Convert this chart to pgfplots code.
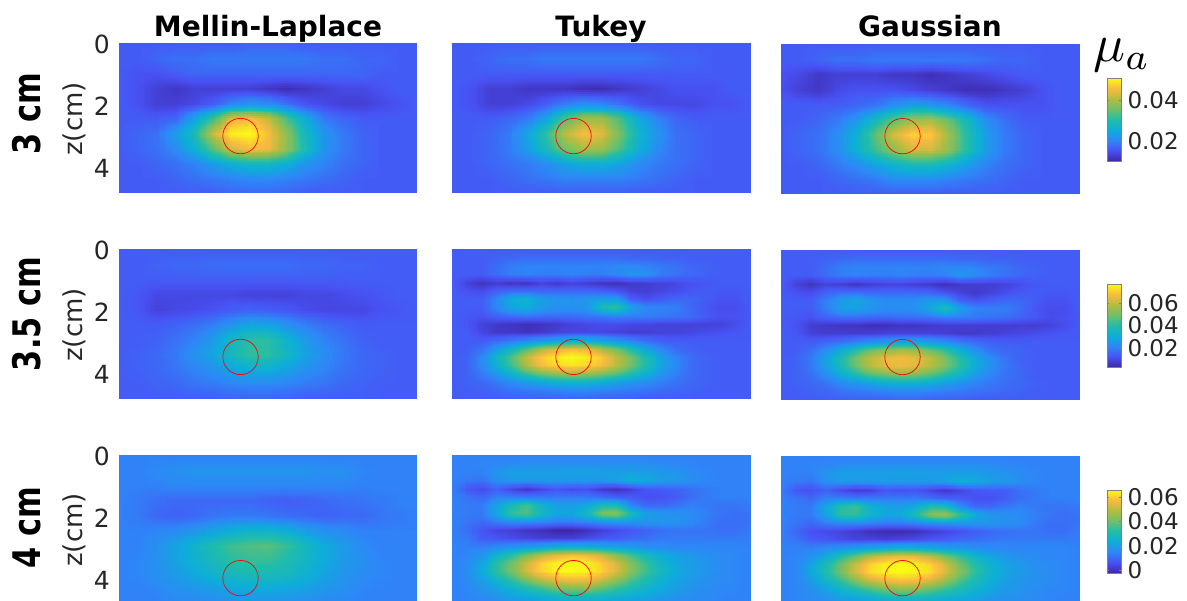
\documentclass[border=0pt]{standalone}
\usepackage{fontspec}
\setmainfont{DejaVu Sans}
\usepackage{pgfplots}
\usepackage{pgfplotstable}
\usepgfplotslibrary{patchplots}
\pgfplotsset{compat=1.18}
\pgfplotsset{colormap={parula}{rgb=(.2422,.1504,.6603) rgb=(.2810,.3228,.9579) rgb=(.1786,.5289,.9682) rgb=(.05,.68,.85) rgb=(.13,.74,.66) rgb=(.44,.75,.41) rgb=(.70,.74,.25) rgb=(.98,.73,.25) rgb=(.9769,.9839,.0805)}}
\definecolor{mlgray}{RGB}{38,38,38}
% values: mu_a x 1000
\pgfplotstableread[row sep=\\]{c\\
16\\16\\16\\16\\16\\16\\16\\17\\17\\17\\16\\16\\16\\16\\16\\16\\16\\
16\\16\\17\\18\\18\\19\\19\\19\\19\\19\\19\\18\\18\\17\\17\\16\\16\\
16\\15\\15\\16\\17\\17\\17\\17\\17\\17\\17\\17\\17\\17\\16\\16\\16\\
16\\15\\13\\12\\13\\13\\13\\13\\12\\11\\12\\13\\14\\14\\15\\16\\16\\
16\\15\\13\\13\\14\\16\\20\\22\\21\\18\\15\\14\\13\\13\\14\\15\\16\\
16\\16\\16\\17\\24\\32\\44\\46\\42\\33\\25\\19\\17\\16\\16\\16\\16\\
16\\17\\18\\23\\29\\42\\50\\51\\46\\38\\28\\22\\19\\17\\16\\16\\16\\
16\\17\\18\\21\\26\\34\\43\\46\\45\\38\\29\\22\\19\\17\\16\\16\\16\\
16\\16\\17\\18\\20\\23\\26\\28\\28\\26\\22\\20\\18\\17\\16\\16\\16\\
16\\16\\16\\17\\18\\19\\20\\21\\21\\20\\19\\18\\17\\16\\16\\16\\16\\
16\\16\\16\\16\\16\\16\\17\\17\\17\\17\\16\\16\\16\\16\\16\\16\\16\\
}\tA
\pgfplotstableread[row sep=\\]{c\\
16\\16\\16\\16\\16\\16\\16\\16\\16\\16\\16\\16\\16\\16\\16\\16\\16\\
16\\16\\17\\18\\18\\19\\19\\19\\19\\19\\19\\18\\17\\17\\16\\16\\16\\
16\\16\\16\\16\\16\\16\\16\\16\\16\\16\\16\\16\\16\\16\\16\\16\\16\\
16\\15\\13\\13\\12\\12\\12\\11\\11\\12\\13\\14\\15\\15\\15\\16\\16\\
16\\15\\13\\13\\14\\16\\19\\21\\20\\18\\15\\14\\14\\14\\15\\15\\16\\
16\\16\\16\\17\\19\\24\\33\\39\\39\\33\\25\\20\\17\\16\\16\\16\\16\\
16\\16\\17\\19\\24\\31\\41\\46\\44\\36\\27\\22\\18\\17\\16\\16\\16\\
16\\16\\17\\19\\23\\29\\36\\40\\39\\33\\26\\21\\18\\17\\16\\16\\16\\
16\\16\\17\\18\\19\\21\\24\\26\\26\\24\\21\\19\\18\\17\\16\\16\\16\\
16\\16\\16\\17\\18\\19\\20\\20\\20\\20\\19\\18\\17\\16\\16\\16\\16\\
16\\16\\16\\16\\16\\16\\16\\16\\16\\16\\16\\16\\16\\16\\16\\16\\16\\
}\tB
\pgfplotstableread[row sep=\\]{c\\
16\\16\\16\\16\\16\\16\\16\\16\\16\\16\\16\\16\\16\\16\\16\\16\\16\\
16\\16\\17\\18\\18\\19\\19\\19\\19\\19\\19\\18\\17\\17\\16\\16\\16\\
15\\14\\12\\13\\13\\13\\12\\12\\11\\12\\13\\14\\15\\16\\16\\16\\16\\
15\\13\\12\\14\\15\\15\\15\\14\\13\\12\\11\\11\\12\\13\\15\\16\\16\\
16\\16\\16\\16\\17\\18\\21\\23\\22\\20\\17\\15\\15\\15\\15\\16\\16\\
16\\16\\17\\19\\22\\28\\34\\39\\40\\35\\28\\21\\18\\16\\16\\16\\16\\
16\\17\\18\\21\\26\\34\\43\\48\\47\\39\\30\\23\\19\\17\\16\\16\\16\\
16\\17\\18\\21\\26\\32\\38\\43\\43\\38\\30\\23\\19\\17\\16\\16\\16\\
16\\16\\17\\19\\21\\24\\27\\29\\29\\27\\23\\20\\18\\17\\16\\16\\16\\
16\\16\\16\\17\\18\\19\\21\\21\\21\\20\\19\\18\\17\\16\\16\\16\\16\\
16\\16\\16\\16\\16\\16\\16\\16\\16\\16\\16\\16\\16\\16\\16\\16\\16\\
}\tC
\pgfplotstableread[row sep=\\]{c\\
14\\14\\14\\14\\14\\14\\14\\14\\14\\14\\14\\14\\14\\14\\14\\14\\14\\
14\\14\\15\\16\\16\\17\\17\\17\\17\\17\\16\\16\\15\\15\\14\\14\\14\\
14\\14\\14\\14\\14\\14\\14\\14\\14\\14\\14\\14\\14\\14\\14\\14\\14\\
14\\13\\10\\10\\10\\10\\10\\9\\9\\9\\10\\10\\11\\12\\13\\14\\14\\
14\\13\\9\\10\\11\\12\\14\\15\\14\\13\\11\\10\\10\\10\\12\\13\\14\\
14\\14\\14\\15\\17\\20\\25\\29\\28\\24\\20\\17\\15\\14\\14\\14\\14\\
14\\14\\15\\18\\21\\26\\35\\41\\41\\33\\26\\21\\18\\15\\14\\14\\14\\
14\\15\\16\\19\\24\\29\\36\\42\\41\\35\\28\\23\\19\\16\\15\\14\\14\\
14\\15\\16\\18\\21\\24\\28\\31\\31\\28\\24\\21\\18\\16\\15\\14\\14\\
14\\14\\15\\16\\18\\19\\21\\22\\22\\21\\19\\18\\16\\15\\14\\14\\14\\
14\\14\\14\\14\\14\\14\\15\\15\\15\\15\\14\\14\\14\\14\\14\\14\\14\\
}\tD
\pgfplotstableread[row sep=\\]{c\\
14\\14\\14\\14\\14\\14\\14\\14\\14\\14\\14\\14\\14\\14\\14\\14\\14\\
14\\14\\16\\17\\18\\18\\18\\18\\18\\18\\18\\17\\17\\15\\14\\14\\14\\
14\\14\\14\\15\\15\\15\\15\\15\\15\\15\\15\\15\\15\\14\\14\\14\\14\\
14\\13\\11\\10\\10\\10\\10\\10\\9\\8\\9\\10\\11\\12\\13\\14\\14\\
14\\13\\10\\9\\10\\12\\13\\13\\12\\11\\10\\9\\10\\10\\12\\13\\14\\
14\\14\\15\\16\\18\\21\\24\\26\\26\\24\\20\\17\\16\\14\\14\\14\\14\\
14\\14\\17\\21\\26\\31\\35\\37\\38\\34\\28\\23\\19\\16\\14\\14\\14\\
14\\15\\17\\21\\25\\29\\33\\34\\34\\31\\27\\23\\19\\17\\15\\14\\14\\
14\\15\\17\\19\\22\\25\\28\\29\\29\\28\\25\\21\\18\\16\\15\\14\\14\\
14\\14\\15\\17\\18\\19\\21\\22\\22\\21\\20\\18\\17\\15\\14\\14\\14\\
14\\14\\14\\15\\15\\16\\17\\17\\17\\17\\16\\15\\15\\14\\14\\14\\14\\
}\tG
\pgfplotstableread[row sep=\\]{c\\
14\\14\\14\\14\\14\\14\\14\\14\\14\\14\\14\\14\\14\\14\\14\\14\\14\\14\\14\\14\\14\\
14\\14\\14\\15\\16\\17\\17\\17\\17\\17\\17\\17\\16\\16\\15\\15\\14\\14\\14\\14\\14\\
14\\14\\14\\17\\20\\21\\21\\21\\21\\21\\21\\22\\22\\21\\19\\18\\16\\15\\14\\14\\14\\
14\\14\\14\\17\\20\\21\\20\\20\\21\\20\\20\\22\\25\\24\\20\\18\\16\\15\\14\\14\\14\\
14\\9\\6\\8\\6\\6\\9\\7\\9\\8\\6\\5\\7\\8\\9\\10\\12\\13\\14\\14\\14\\
14\\12\\11\\15\\17\\17\\16\\16\\16\\16\\15\\13\\9\\8\\10\\11\\13\\14\\13\\13\\14\\
14\\14\\14\\22\\31\\33\\27\\25\\24\\25\\27\\27\\15\\12\\14\\16\\16\\14\\12\\12\\14\\
14\\14\\14\\22\\29\\31\\26\\24\\24\\25\\38\\42\\28\\22\\21\\20\\16\\13\\11\\11\\14\\
14\\13\\12\\15\\17\\18\\17\\17\\17\\18\\19\\21\\20\\20\\19\\18\\17\\14\\12\\12\\13\\
14\\13\\9\\7\\6\\5\\6\\7\\9\\10\\11\\11\\10\\10\\9\\9\\9\\9\\9\\11\\14\\
14\\14\\10\\7\\7\\6\\7\\9\\10\\10\\10\\9\\8\\8\\9\\9\\10\\11\\12\\13\\14\\
14\\14\\14\\17\\20\\23\\26\\29\\33\\33\\30\\26\\22\\18\\15\\14\\14\\14\\14\\14\\14\\
14\\14\\18\\26\\36\\46\\58\\64\\68\\66\\58\\50\\39\\29\\22\\17\\15\\14\\14\\14\\14\\
14\\15\\22\\34\\46\\60\\70\\75\\77\\75\\70\\60\\50\\38\\28\\21\\17\\15\\14\\14\\14\\
14\\15\\22\\32\\44\\58\\68\\72\\74\\72\\68\\60\\50\\39\\29\\22\\17\\15\\14\\14\\14\\
14\\15\\19\\25\\33\\41\\48\\52\\54\\53\\50\\45\\38\\31\\25\\20\\17\\15\\14\\14\\14\\
14\\15\\16\\19\\23\\26\\29\\32\\33\\33\\31\\28\\25\\23\\20\\18\\16\\15\\14\\14\\14\\
14\\14\\15\\16\\18\\19\\20\\21\\22\\22\\21\\20\\19\\18\\17\\16\\15\\14\\14\\14\\14\\
14\\14\\14\\14\\15\\15\\15\\15\\16\\16\\15\\15\\15\\14\\14\\14\\14\\14\\14\\14\\14\\
}\tE
\pgfplotstableread[row sep=\\]{c\\
14\\14\\14\\14\\14\\14\\14\\14\\14\\14\\14\\14\\14\\14\\14\\14\\14\\14\\14\\14\\14\\
14\\14\\14\\15\\16\\17\\17\\17\\17\\17\\17\\17\\16\\16\\15\\15\\14\\14\\14\\14\\14\\
14\\14\\14\\17\\20\\21\\21\\21\\21\\21\\21\\22\\22\\21\\19\\18\\16\\15\\14\\14\\14\\
14\\14\\14\\17\\20\\21\\20\\20\\21\\20\\20\\21\\25\\23\\20\\18\\16\\15\\14\\14\\14\\
14\\9\\6\\9\\8\\6\\8\\9\\9\\8\\7\\5\\7\\8\\8\\9\\11\\13\\14\\14\\14\\
14\\12\\11\\15\\17\\17\\16\\16\\16\\16\\15\\12\\9\\7\\9\\11\\13\\14\\13\\13\\14\\
14\\14\\14\\20\\26\\29\\25\\23\\23\\23\\26\\25\\15\\12\\14\\16\\16\\14\\12\\12\\14\\
14\\14\\14\\20\\27\\28\\25\\23\\23\\24\\30\\39\\27\\21\\20\\20\\17\\13\\11\\11\\14\\
14\\13\\12\\15\\17\\17\\16\\16\\17\\17\\18\\20\\20\\19\\18\\17\\15\\13\\11\\12\\13\\
14\\12\\8\\7\\6\\6\\5\\5\\6\\6\\7\\8\\8\\8\\8\\8\\8\\8\\9\\11\\14\\
14\\13\\9\\8\\8\\8\\8\\9\\9\\9\\9\\8\\7\\7\\8\\9\\10\\11\\12\\13\\14\\
14\\14\\14\\16\\18\\21\\24\\26\\29\\29\\27\\24\\20\\17\\15\\14\\14\\14\\14\\14\\14\\
14\\14\\17\\23\\31\\40\\49\\54\\57\\55\\49\\42\\32\\24\\18\\16\\15\\14\\14\\14\\14\\
14\\15\\19\\28\\38\\50\\60\\65\\67\\65\\60\\51\\40\\30\\23\\18\\15\\14\\14\\14\\14\\
14\\15\\19\\27\\37\\49\\59\\64\\66\\64\\59\\51\\41\\31\\24\\19\\16\\14\\14\\14\\14\\
14\\15\\17\\23\\30\\37\\44\\48\\50\\49\\45\\39\\33\\26\\21\\18\\16\\14\\14\\14\\14\\
14\\15\\16\\18\\22\\25\\28\\31\\32\\32\\30\\27\\24\\21\\19\\17\\16\\15\\14\\14\\14\\
14\\14\\15\\16\\18\\19\\20\\21\\22\\22\\21\\20\\19\\18\\17\\16\\15\\14\\14\\14\\14\\
14\\14\\14\\14\\15\\15\\15\\15\\16\\16\\15\\15\\15\\14\\14\\14\\14\\14\\14\\14\\14\\
}\tF
\pgfplotstableread[row sep=\\]{c\\
14\\14\\14\\14\\14\\14\\14\\14\\14\\14\\14\\14\\14\\14\\14\\14\\14\\14\\14\\14\\14\\
14\\14\\15\\15\\16\\17\\17\\17\\17\\17\\17\\17\\17\\17\\16\\15\\15\\14\\14\\14\\14\\
14\\14\\14\\18\\20\\20\\20\\20\\21\\21\\20\\20\\20\\20\\19\\18\\16\\15\\14\\14\\14\\
14\\13\\12\\17\\19\\19\\19\\19\\19\\19\\19\\21\\25\\23\\20\\19\\17\\15\\14\\14\\14\\
14\\7\\5\\9\\4\\1\\4\\7\\5\\6\\2\\0\\3\\7\\8\\9\\11\\13\\14\\14\\14\\
14\\12\\10\\14\\14\\13\\13\\13\\13\\13\\11\\9\\8\\6\\6\\8\\11\\13\\14\\14\\14\\
14\\13\\13\\21\\30\\36\\26\\21\\20\\22\\30\\30\\15\\10\\10\\12\\14\\13\\12\\12\\13\\
14\\13\\13\\22\\34\\37\\28\\22\\22\\27\\42\\44\\30\\20\\18\\17\\16\\14\\12\\11\\12\\
14\\12\\10\\13\\15\\15\\14\\13\\13\\14\\16\\17\\17\\18\\18\\18\\16\\13\\11\\11\\12\\
14\\11\\7\\4\\3\\1\\0\\-2\\-2\\0\\3\\5\\7\\9\\11\\12\\12\\12\\11\\11\\13\\
14\\13\\8\\7\\5\\4\\3\\3\\3\\5\\7\\8\\10\\11\\13\\13\\13\\13\\13\\13\\14\\
14\\14\\14\\16\\18\\20\\22\\25\\26\\25\\23\\21\\20\\17\\16\\15\\15\\15\\15\\15\\14\\
14\\15\\18\\26\\33\\42\\50\\55\\58\\57\\52\\44\\36\\29\\24\\21\\19\\17\\16\\15\\14\\
14\\16\\22\\32\\41\\52\\61\\65\\66\\65\\60\\53\\43\\34\\27\\22\\20\\18\\16\\15\\14\\
14\\16\\23\\33\\42\\53\\61\\65\\66\\65\\61\\54\\44\\35\\28\\23\\20\\18\\16\\15\\14\\
14\\16\\20\\26\\33\\41\\49\\54\\56\\56\\51\\44\\36\\30\\25\\21\\19\\17\\16\\15\\14\\
14\\15\\18\\21\\26\\30\\35\\40\\43\\43\\39\\34\\30\\26\\23\\20\\18\\16\\15\\15\\14\\
14\\15\\16\\18\\21\\23\\25\\27\\29\\29\\28\\26\\24\\22\\20\\18\\17\\16\\15\\14\\14\\
14\\14\\15\\16\\17\\18\\19\\20\\20\\20\\20\\19\\18\\18\\17\\16\\15\\15\\14\\14\\14\\
}\tH
\pgfplotstableread[row sep=\\]{c\\
14\\14\\14\\14\\14\\14\\14\\14\\14\\14\\14\\14\\14\\14\\14\\14\\14\\14\\14\\14\\14\\
14\\14\\15\\15\\16\\17\\17\\17\\17\\17\\17\\17\\17\\17\\16\\15\\15\\14\\14\\14\\14\\
14\\14\\14\\18\\20\\20\\20\\20\\21\\21\\20\\20\\20\\20\\19\\18\\16\\15\\14\\14\\14\\
14\\13\\12\\17\\19\\19\\19\\19\\19\\19\\19\\21\\25\\23\\20\\19\\17\\15\\14\\14\\14\\
14\\7\\6\\9\\5\\2\\3\\7\\6\\7\\4\\1\\4\\7\\8\\8\\11\\13\\14\\14\\14\\
14\\12\\10\\14\\14\\13\\13\\13\\13\\13\\11\\9\\8\\6\\6\\8\\11\\13\\14\\14\\14\\
14\\13\\13\\22\\32\\35\\25\\21\\20\\23\\31\\29\\16\\10\\10\\12\\14\\13\\12\\12\\13\\
14\\13\\13\\21\\33\\34\\26\\22\\23\\30\\43\\46\\34\\23\\18\\17\\16\\14\\12\\11\\12\\
14\\12\\10\\13\\15\\15\\14\\13\\13\\14\\16\\17\\18\\18\\18\\17\\16\\13\\11\\11\\12\\
14\\10\\6\\5\\4\\2\\0\\-1\\-1\\0\\2\\4\\6\\8\\10\\11\\12\\12\\11\\11\\13\\
14\\12\\8\\7\\5\\4\\4\\3\\4\\5\\7\\8\\10\\11\\12\\13\\13\\13\\13\\13\\14\\
14\\14\\14\\16\\18\\20\\22\\24\\26\\25\\23\\21\\19\\17\\16\\15\\15\\15\\15\\15\\14\\
14\\15\\17\\23\\31\\40\\49\\54\\56\\55\\50\\42\\34\\27\\22\\19\\17\\16\\15\\15\\14\\
14\\15\\21\\30\\40\\52\\61\\65\\66\\65\\61\\53\\41\\32\\25\\21\\19\\17\\16\\15\\14\\
14\\15\\22\\31\\41\\53\\62\\65\\66\\65\\62\\54\\43\\34\\26\\22\\19\\17\\16\\15\\14\\
14\\15\\19\\26\\33\\42\\50\\55\\57\\56\\52\\45\\36\\29\\24\\20\\18\\17\\16\\15\\14\\
14\\15\\17\\21\\26\\31\\36\\41\\44\\43\\39\\34\\30\\26\\22\\19\\18\\16\\15\\15\\14\\
14\\15\\16\\18\\21\\23\\25\\28\\29\\29\\28\\26\\24\\22\\19\\18\\17\\16\\15\\14\\14\\
14\\14\\15\\16\\17\\18\\19\\20\\20\\20\\20\\19\\18\\18\\17\\16\\15\\15\\14\\14\\14\\
}\tI
\pgfplotstablecreatecol[create col/expr={0}]{d}{\tA}
\pgfplotstablecreatecol[create col/expr={0}]{d}{\tB}
\pgfplotstablecreatecol[create col/expr={0}]{d}{\tC}
\pgfplotstablecreatecol[create col/expr={0}]{d}{\tD}
\pgfplotstablecreatecol[create col/expr={0}]{d}{\tE}
\pgfplotstablecreatecol[create col/expr={0}]{d}{\tF}
\pgfplotstablecreatecol[create col/expr={0}]{d}{\tG}
\pgfplotstablecreatecol[create col/expr={0}]{d}{\tH}
\pgfplotstablecreatecol[create col/expr={0}]{d}{\tI}
\pgfplotsset{pextra/.style={}}
% x, top, height, cols, rows, table, min, max, circle z
\newcommand\panel[9]{%
\begin{axis}[at={(#1pt,{601pt-#2pt})},anchor=north west,scale only axis,width=298pt,height=#3pt,
 xmin=0,xmax=9.613,ymin=0,ymax={#3/31},y dir=reverse,axis line style={draw=none},xtick=\empty,ytick={0,2,4},
 major tick length=0pt,yticklabel style={font=\fontsize{25}{25}\selectfont,text=mlgray,/pgf/number format/assume math mode=true,inner sep=0pt,xshift=-9pt},
 point meta min=#7,point meta max=#8,colormap name=parula,pextra]
\addplot[surf,shader=interp,patch type=bilinear,mesh/cols=#4,point meta=\thisrow{c}] table[x=c,y=c,x expr={mod(\coordindex,#4)*9.613/(#4-1)},y expr={floor((\coordindex+.5)/#4)*4.806/(#5-1)}] {#6};
\addplot[only marks,mark=o,mark size=17.7pt,mark options={draw=red,line width=.7pt}] coordinates {(3.92,#9)};
\end{axis}}
\newcommand\cbstyle[3]{\pgfplotsset{pextra/.style={ytick=\empty,colorbar,colorbar style={at={(1.094,#1)},anchor=north west,width=14pt,height=83pt,ytick={#2},yticklabels={#3},major tick length=2pt,axis line style={draw=gray},yticklabel style={font=\fontsize{23}{23}\selectfont,text=mlgray,/pgf/number format/assume math mode=true,xshift=3pt}}}}}
\newcommand\noextra{\pgfplotsset{pextra/.style={}}}
\newcommand\nolabels{\pgfplotsset{pextra/.style={ytick=\empty}}}
\begin{document}
\begin{tikzpicture}[x=1pt,y=1pt]
\useasboundingbox (0,0) rectangle (1187,601);
\panel{119}{44}{149}{17}{11}{\tA}{10}{51}{2.97}
\nolabels
\panel{452}{44}{149}{17}{11}{\tB}{10}{51}{2.97}
\cbstyle{.7785}{20,40}{0.02,0.04}
\panel{781}{45}{149}{17}{11}{\tC}{10}{51}{2.94}
\noextra
\panel{119}{250}{149}{17}{11}{\tD}{3}{77}{3.45}
\nolabels
\panel{452}{250}{149}{21}{19}{\tE}{3}{77}{3.45}
\cbstyle{.7785}{20,40,60}{0.02,0.04,0.06}
\panel{781}{251}{149}{21}{19}{\tF}{3}{77}{3.42}
\noextra
\panel{119}{456}{145}{17}{11}{\tG}{-2}{66}{3.94}
\nolabels
\panel{452}{456}{145}{21}{19}{\tH}{-2}{66}{3.94}
\cbstyle{.772}{0,20,40,60}{0,0.02,0.04,0.06}
\panel{781}{457}{144}{21}{19}{\tI}{-2}{66}{3.91}
\node[anchor=base,font=\fontsize{28}{28}\selectfont\bfseries] at (268,564) {Mellin-Laplace};
\node[anchor=base,font=\fontsize{28}{28}\selectfont\bfseries] at (601,564) {Tukey};
\node[anchor=base,font=\fontsize{28}{28}\selectfont\bfseries] at (930,564) {Gaussian};
\node[scale=5.3] at (1122,546) {$\mu_a$};
\node[rotate=90,font=\fontsize{38}{38}\selectfont\bfseries,xscale=.8] at (27,487.5) {3 cm};
\node[rotate=90,font=\fontsize{38}{38}\selectfont\bfseries,xscale=.8] at (27,287) {3.5 cm};
\node[rotate=90,font=\fontsize{38}{38}\selectfont\bfseries,xscale=.8] at (27,73) {4 cm};
\node[rotate=90,font=\fontsize{26}{26}\selectfont,text=mlgray] at (74,482) {z(cm)};
\node[rotate=90,font=\fontsize{26}{26}\selectfont,text=mlgray] at (74,276) {z(cm)};
\node[rotate=90,font=\fontsize{26}{26}\selectfont,text=mlgray] at (74,71) {z(cm)};
\end{tikzpicture}
\end{document}
